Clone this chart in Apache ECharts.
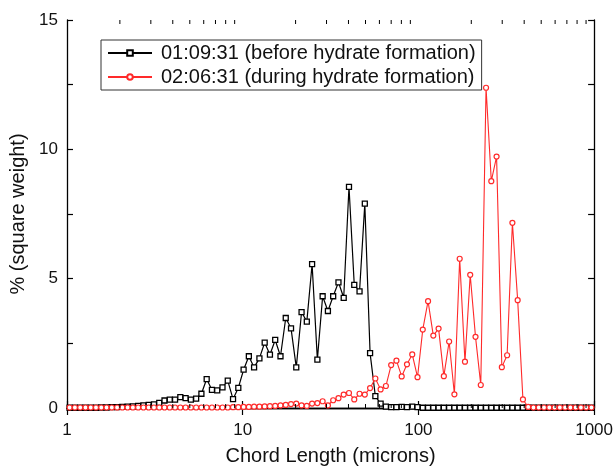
<!DOCTYPE html>
<html>
<head>
<meta charset="utf-8">
<script src="https://cdn.jsdelivr.net/npm/echarts@6/dist/echarts.min.js"></script>
<style>
  html, body { margin: 0; padding: 0; background: #fff; }
  #chart { width: 616px; height: 471px; }
</style>
</head>
<body>
<div id="chart"></div>
<script>
// FBRM chord-length channels (µm), log-spaced midpoints from 1 to 1000
const chordLength = [
  1.035, 1.109, 1.189, 1.274, 1.365, 1.462, 1.567, 1.679, 1.799, 1.928,
  2.065, 2.213, 2.371, 2.541, 2.723, 2.917, 3.126, 3.350, 3.589, 3.846,
  4.121, 4.416, 4.732, 5.070, 5.433, 5.821, 6.237, 6.683, 7.161, 7.674,
  8.222, 8.810, 9.441, 10.12, 10.84, 11.61, 12.45, 13.34, 14.29, 15.31,
  16.41, 17.58, 18.84, 20.18, 21.63, 23.17, 24.83, 26.61, 28.51, 30.55,
  32.73, 35.08, 37.58, 40.27, 43.15, 46.24, 49.55, 53.09, 56.89, 60.95,
  65.31, 69.98, 74.99, 80.35, 86.10, 92.26, 98.86, 105.9, 113.5, 121.6,
  130.3, 139.6, 149.6, 160.3, 171.8, 184.1, 197.2, 211.4, 226.5, 242.7,
  260.0, 278.6, 298.5, 319.9, 342.8, 367.3, 393.6, 421.7, 451.9, 484.2,
  518.8, 555.9, 595.7, 638.3, 683.9, 732.8, 785.2, 841.4, 901.6, 966.1
];

// % (square weight) at 01:09:31, before hydrate formation
const beforeHydrate = [
  0.01, 0.01, 0.01, 0.01, 0.01, 0.01, 0.02, 0.02, 0.03, 0.03,
  0.04, 0.05, 0.06, 0.08, 0.10, 0.12, 0.14, 0.20, 0.29, 0.32,
  0.32, 0.42, 0.38, 0.32, 0.36, 0.55, 1.12, 0.70, 0.68, 0.80,
  1.06, 0.34, 0.78, 1.48, 2.00, 1.57, 1.92, 2.53, 2.06, 2.63,
  2.00, 3.48, 3.08, 1.57, 3.71, 3.34, 5.56, 1.87, 4.32, 3.75,
  4.32, 4.86, 4.26, 8.55, 4.76, 4.51, 7.90, 2.12, 0.46, 0.17,
  0.05, 0.03, 0.03, 0.04, 0.03, 0.05, 0.03, 0.01, 0.01, 0.01,
  0.01, 0.01, 0.01, 0.01, 0.01, 0.01, 0.01, 0.01, 0.01, 0.01,
  0.01, 0.01, 0.01, 0.01, 0.01, 0.01, 0.01, 0.01, 0.01, 0.01,
  0.01, 0.01, 0.01, 0.01, 0.01, 0.01, 0.01, 0.01, 0.01, 0.01
];

// % (square weight) at 02:06:31, during hydrate formation
const duringHydrate = [
  0.02, 0.02, 0.02, 0.02, 0.02, 0.02, 0.02, 0.02, 0.02, 0.02,
  0.02, 0.02, 0.02, 0.02, 0.02, 0.02, 0.02, 0.02, 0.02, 0.02,
  0.02, 0.02, 0.02, 0.02, 0.02, 0.02, 0.02, 0.02, 0.02, 0.02,
  0.02, 0.03, 0.03, 0.04, 0.04, 0.05, 0.05, 0.06, 0.07, 0.08,
  0.10, 0.12, 0.15, 0.17, 0.10, 0.08, 0.17, 0.19, 0.26, 0.10,
  0.30, 0.38, 0.52, 0.58, 0.33, 0.55, 0.52, 0.77, 1.14, 0.72,
  0.85, 1.66, 1.83, 1.22, 1.69, 2.07, 1.19, 3.03, 4.13, 2.80,
  3.07, 1.23, 2.57, 0.53, 5.77, 1.79, 5.15, 2.75, 0.89, 12.38,
  8.77, 9.72, 1.58, 2.04, 7.16, 4.17, 0.33, 0.04, 0.02, 0.02,
  0.02, 0.02, 0.02, 0.02, 0.02, 0.02, 0.02, 0.02, 0.02, 0.02
];

const seriesNames = ['01:09:31 (before hydrate formation)', '02:06:31 (during hydrate formation)'];

// Minor tick positions of the log axis (2..9 in each decade)
const minorTickValues = [
  2, 3, 4, 5, 6, 7, 8, 9,
  20, 30, 40, 50, 60, 70, 80, 90,
  200, 300, 400, 500, 600, 700, 800, 900
];

const yTickLabels = [0, 5, 10, 15];

const font = '"Liberation Sans", Arial, Helvetica, sans-serif';
const toPairs = (ys) => chordLength.map((x, i) => [x, ys[i]]);

const chart = echarts.init(document.getElementById('chart'), null, { renderer: 'canvas' });

const frameAxisLine = { show: true, lineStyle: { color: '#000', width: 1.3 } };
const majorTick = { show: true, inside: true, length: 7, lineStyle: { color: '#000', width: 1.2 } };

chart.setOption({
  animation: false,
  backgroundColor: '#fff',
  grid: { left: 67, right: 20, top: 20, bottom: 60, containLabel: false },
  legend: {
    data: seriesNames,
    orient: 'vertical',
    left: 101,
    top: 40,
    itemWidth: 44,
    itemHeight: 7,
    itemGap: 4,
    padding: [3, 6, 3, 6],
    borderColor: '#333',
    borderWidth: 1,
    backgroundColor: '#fff',
    textStyle: { fontSize: 20, color: '#111', fontFamily: font, padding: [0, 2, 0, 4] }
  },
  xAxis: [
    {
      type: 'log', logBase: 10, min: 1, max: 1000, position: 'bottom',
      name: 'Chord Length (microns)', nameLocation: 'middle', nameGap: 38,
      nameTextStyle: { fontSize: 20, color: '#111', fontFamily: font },
      axisLine: frameAxisLine,
      axisTick: majorTick,
      axisLabel: {
        margin: 14, fontSize: 17, color: '#111', fontFamily: font,
        formatter: (v) => String(Math.round(v))
      },
      splitLine: { show: false }
    },
    {
      type: 'log', logBase: 10, min: 1, max: 1000, position: 'top',
      axisLine: frameAxisLine,
      axisTick: majorTick,
      axisLabel: { show: false },
      splitLine: { show: false }
    }
  ],
  yAxis: [
    {
      type: 'value', min: 0, max: 15, interval: 2.5, position: 'left',
      name: '% (square weight)', nameLocation: 'middle', nameGap: 38,
      nameTextStyle: { fontSize: 20, color: '#111', fontFamily: font },
      axisLine: frameAxisLine,
      axisTick: { show: true, inside: true, length: 6, lineStyle: { color: '#000', width: 1.2 } },
      axisLabel: {
        margin: 9, fontSize: 17, color: '#111', fontFamily: font,
        formatter: (v) => (yTickLabels.indexOf(v) >= 0 ? String(v) : '')
      },
      splitLine: { show: false }
    },
    {
      type: 'value', min: 0, max: 15, interval: 2.5, position: 'right',
      axisLine: frameAxisLine,
      axisTick: { show: true, inside: true, length: 6, lineStyle: { color: '#000', width: 1.2 } },
      axisLabel: { show: false },
      splitLine: { show: false }
    }
  ],
  series: [
    {
      name: seriesNames[0],
      type: 'line',
      xAxisIndex: 0, yAxisIndex: 0,
      data: toPairs(beforeHydrate),
      symbol: 'rect',
      symbolSize: 5,
      showAllSymbol: true,
      color: '#000',
      lineStyle: { color: '#000', width: 1.2 },
      itemStyle: { color: '#fff', borderColor: '#000', borderWidth: 1.3 },
      z: 3
    },
    {
      name: seriesNames[1],
      type: 'line',
      xAxisIndex: 0, yAxisIndex: 0,
      data: toPairs(duringHydrate),
      symbol: 'circle',
      symbolSize: 5,
      showAllSymbol: true,
      color: '#ff2a2a',
      lineStyle: { color: '#ff2a2a', width: 1.1 },
      itemStyle: { color: '#fff', borderColor: '#ff2a2a', borderWidth: 1.2 },
      z: 4
    },
    {
      // minor ticks on the bottom and top log axes
      name: 'minorTicks',
      type: 'custom',
      xAxisIndex: 0, yAxisIndex: 0,
      silent: true,
      clip: false,
      z: 6,
      data: minorTickValues.map((v) => [v, 0]),
      renderItem: (params, api) => {
        const v = api.value(0);
        const b = api.coord([v, 0]);
        const t = api.coord([v, 15]);
        return {
          type: 'group',
          children: [
            { type: 'line', shape: { x1: b[0], y1: b[1], x2: b[0], y2: b[1] - 4 }, style: { stroke: '#000', lineWidth: 1 } },
            { type: 'line', shape: { x1: t[0], y1: t[1], x2: t[0], y2: t[1] + 4 }, style: { stroke: '#000', lineWidth: 1 } }
          ]
        };
      }
    }
  ]
});
</script>
</body>
</html>
